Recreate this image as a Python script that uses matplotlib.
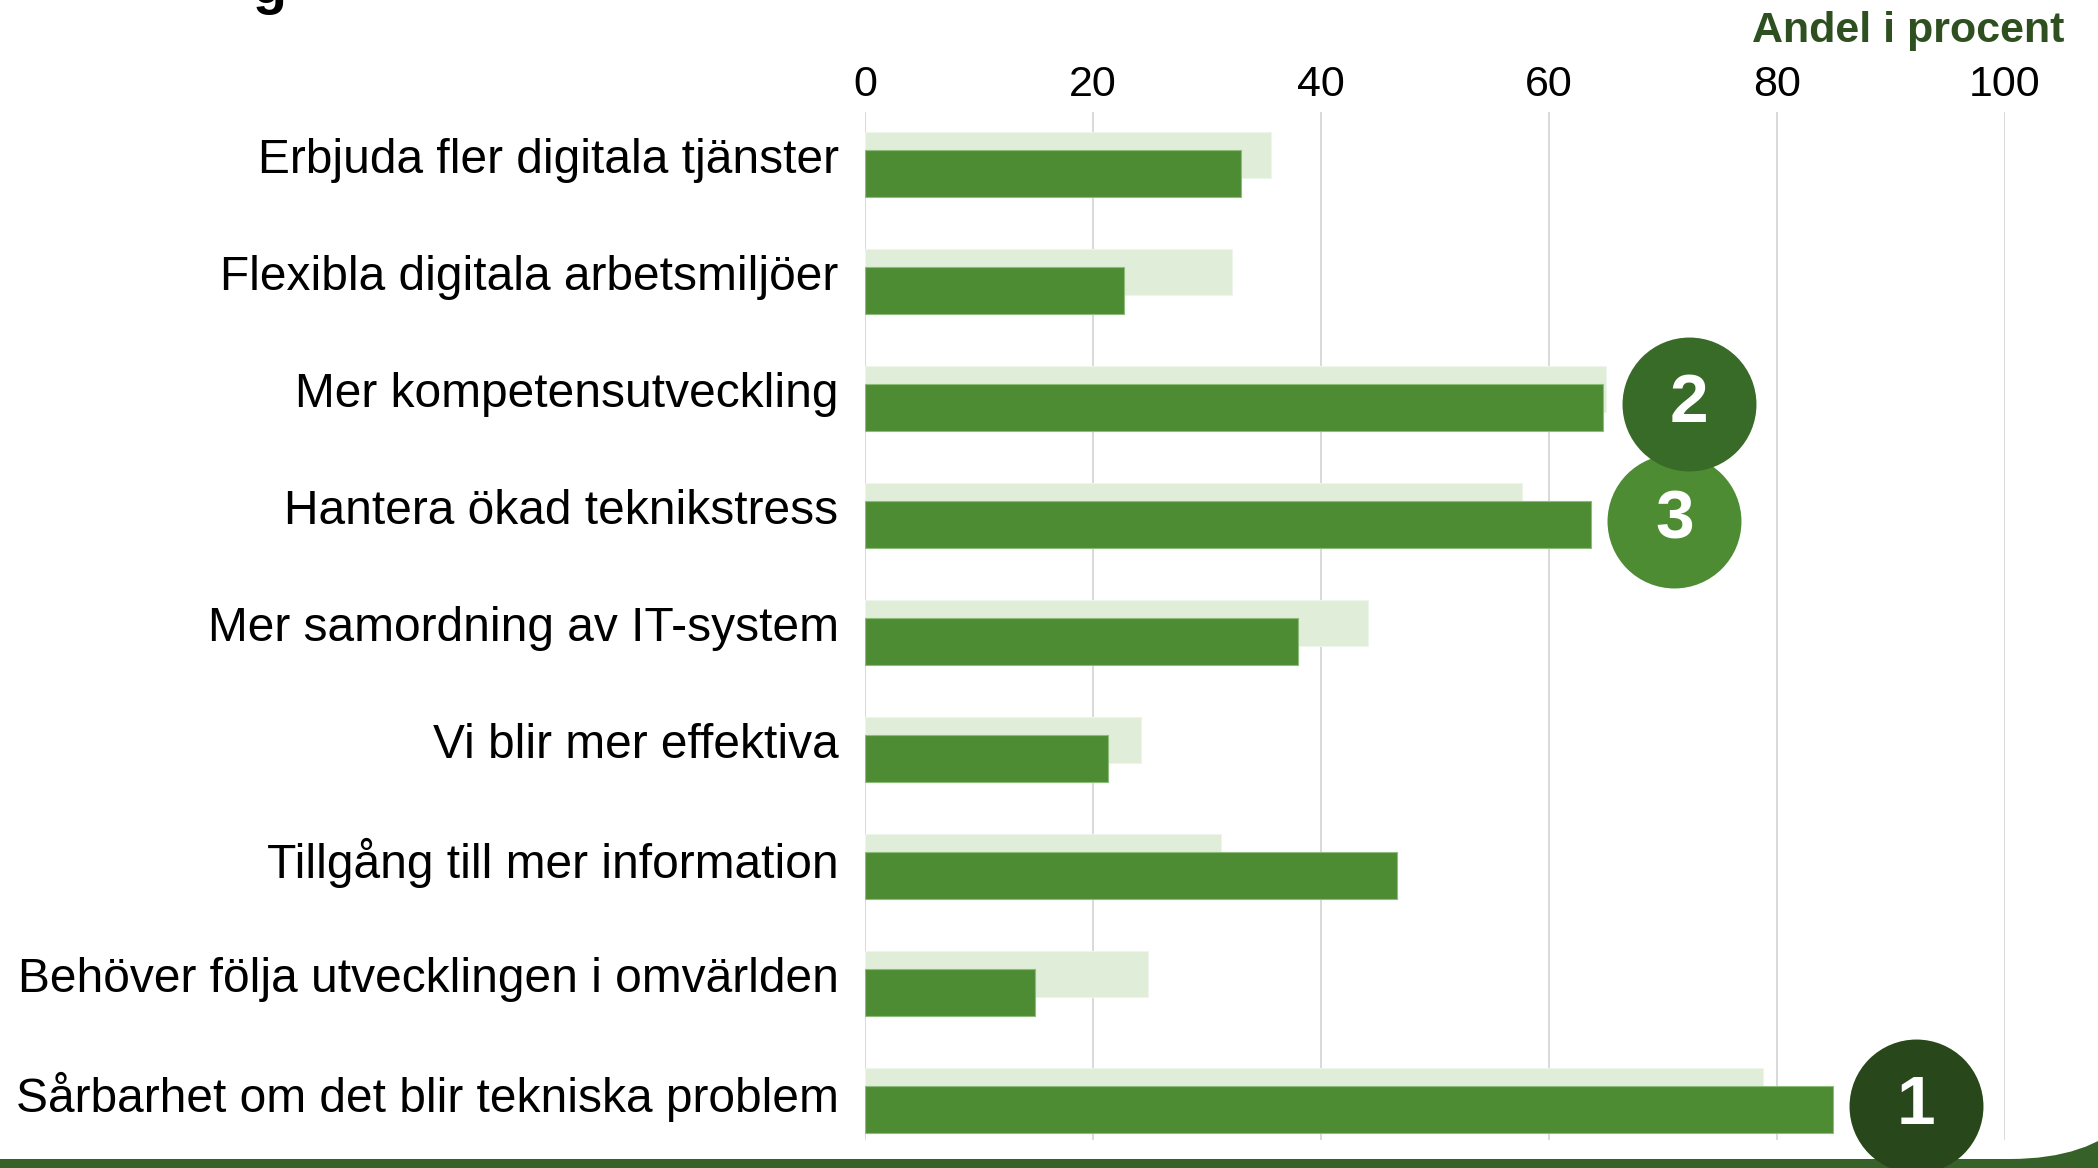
import numpy as np
import matplotlib.pyplot as plt
from matplotlib.patches import Rectangle, FancyBboxPatch
from matplotlib.transforms import offset_copy

plt.rcParams['font.family'] = ['Liberation Sans', 'DejaVu Sans']

# --- data ---
kategorier = [
    "Erbjuda fler digitala tjänster",
    "Flexibla digitala arbetsmiljöer",
    "Mer kompetensutveckling",
    "Hantera ökad teknikstress",
    "Mer samordning av IT-system",
    "Vi blir mer effektiva",
    "Tillgång till mer information",
    "Behöver följa utvecklingen i omvärlden",
    "Sårbarhet om det blir tekniska problem",
]
andel_tidigare = [35.6, 32.2, 65.0, 57.6, 44.1, 24.2, 31.2, 24.8, 78.8]
andel_nu = [33.0, 22.7, 64.7, 63.7, 38.0, 21.3, 46.7, 14.9, 84.9]
rang = {8: 1, 2: 2, 3: 3}          # kategori-index -> placering
x_ticks = [0, 20, 40, 60, 80, 100]
axel_titel = "Andel i procent"

# --- colours ---
ljus = "#E0EDD9"
mork = "#4E8C34"
rang_farg = {1: "#28471A", 2: "#386A28", 3: "#4E8C34"}
band = "#36622A"
titel_farg = "#2E5020"

W, H = 2098, 1168
fig = plt.figure(figsize=(W / 100, H / 100), dpi=100)

# background: green bottom band with rounded white panel
bg = fig.add_axes([0, 0, 1, 1], zorder=0)
bg.set_xlim(0, W)
bg.set_ylim(H, 0)
bg.axis("off")
bg.add_patch(Rectangle((0, 950), W, 250, color=band, lw=0))
bg.add_patch(FancyBboxPatch((-300, -300), 2167 + 300, 1159 + 300,
                            boxstyle="round,pad=0,rounding_size=157",
                            fc="white", ec="none"))

# cut-off title glyph at the very top
fig.text(253 / W, 1 - 3 / H, "g", fontsize=40, fontweight="bold",
         ha="left", va="baseline", color="black")

# --- chart ---
top, bottom, left, right = 112, 1140, 865, 2005
ax = fig.add_axes([left / W, 1 - bottom / H, (right - left) / W, (bottom - top) / H],
                  zorder=2)
ax.set_facecolor("none")

y = np.arange(len(kategorier))
ax.barh(y - 0.079, andel_tidigare, height=0.39, color=ljus,
        edgecolor="#EEF5EA", lw=0.8, zorder=2)
ax.barh(y + 0.079, andel_nu, height=0.40, color=mork,
        edgecolor="#8DBB7A", lw=0.8, zorder=3)

ax.set_xlim(0, 100)
ax.set_ylim(len(kategorier) - 1 + 0.342, -0.444)
ax.set_xticks(x_ticks)
ax.xaxis.tick_top()
ax.tick_params(axis="x", length=0, pad=5, labelsize=31, labelcolor="black")
ax.set_yticks(y, labels=kategorier)
ax.tick_params(axis="y", length=0, pad=19, labelsize=34.5, labelcolor="black")
for lab in ax.get_yticklabels():
    lab.set_transform(offset_copy(lab.get_transform(), fig=fig, x=0, y=8, units="dots"))
for s in ax.spines.values():
    s.set_visible(False)
ax.grid(axis="x", color="#D9D9D9", lw=1.4, zorder=0)
ax.set_axisbelow(True)

# rank circles (draw 3 first so 2 sits on top)
for idx, r in sorted(rang.items(), key=lambda kv: -kv[1]):
    cx = max(andel_tidigare[idx], andel_nu[idx]) + 7.3
    cy = idx + 0.05
    ax.scatter([cx], [cy], s=9300, color=rang_farg[r], zorder=5 + (3 - r),
               clip_on=False, linewidths=0)
    ax.text(cx, cy, str(r), color="white", fontsize=50, fontweight="bold",
            ha="center", va="center", zorder=6 + (3 - r), clip_on=False)

fig.text(2064 / W, 1 - 31 / H, axel_titel, fontsize=31, fontweight="bold",
         color=titel_farg, ha="right", va="center")

fig.savefig("out.png", dpi=100)
